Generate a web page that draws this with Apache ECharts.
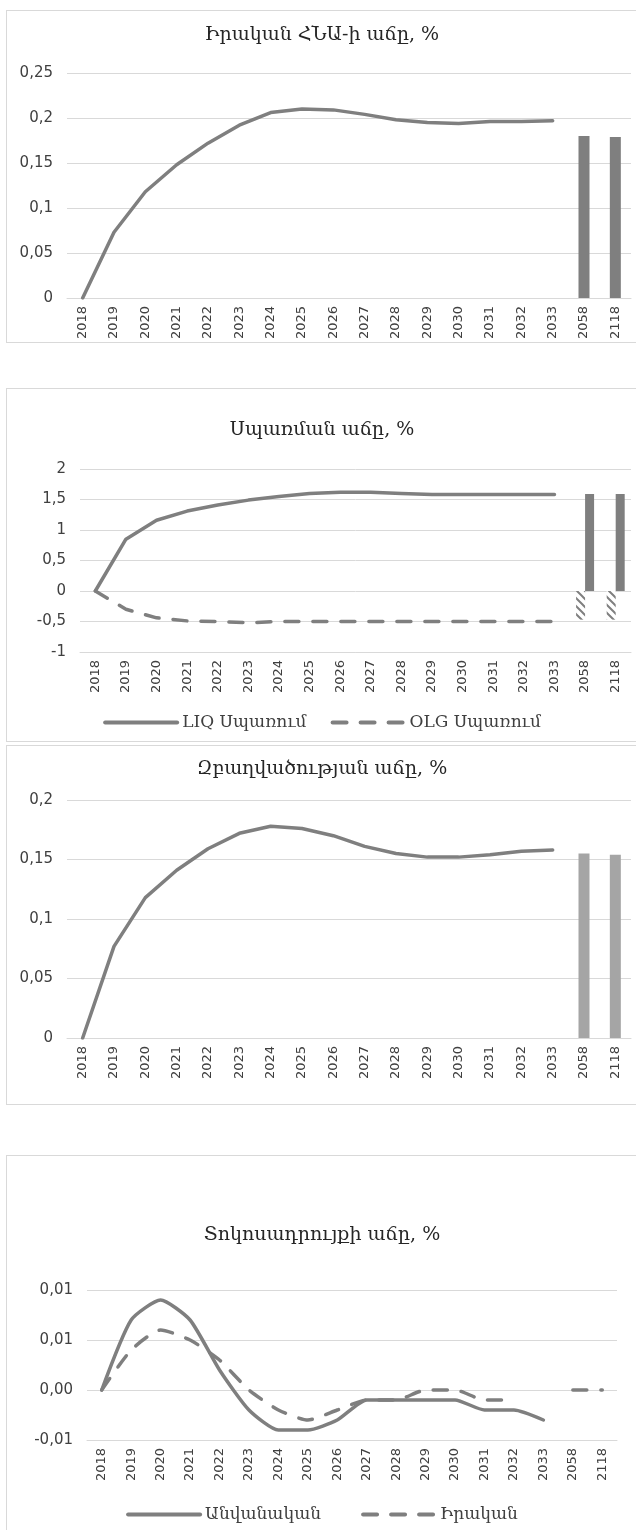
<!DOCTYPE html>
<html>
<head>
<meta charset="utf-8">
<script src="https://cdn.jsdelivr.net/npm/echarts@6/dist/echarts.min.js"></script>
<style>
  html, body { margin: 0; padding: 0; background: #fff; width: 636px; height: 1530px; overflow: hidden; }
  .panel { position: absolute; left: 6px; width: 630px; border: 1px solid #d9d9d9; background: #fff; }
</style>
</head>
<body>
<div id="p1" class="panel" style="top:10px;height:331px"></div>
<div id="p2" class="panel" style="top:388px;height:352px"></div>
<div id="p3" class="panel" style="top:745px;height:358px"></div>
<div id="p4" class="panel" style="top:1155px;height:400px"></div>
<script>
// categories
var years = ["2018", "2019", "2020", "2021", "2022", "2023", "2024", "2025", "2026",
  "2027", "2028", "2029", "2030", "2031", "2032", "2033", "2058", "2118"];

// real GDP growth
var gdpLine = [0, 0.073, 0.118, 0.148, 0.172, 0.192, 0.206, 0.210, 0.209, 0.204,
  0.198, 0.195, 0.194, 0.196, 0.196, 0.197, null, null];
var gdpBar = [null, null, null, null, null, null, null, null, null, null,
  null, null, null, null, null, null, 0.180, 0.179];

// consumption growth
var liqLine = [0, 0.85, 1.16, 1.31, 1.41, 1.49, 1.55, 1.60, 1.62, 1.62,
  1.60, 1.58, 1.58, 1.58, 1.58, 1.58, null, null];
var olgLine = [0, -0.30, -0.44, -0.49, -0.50, -0.52, -0.50, -0.50, -0.50, -0.50,
  -0.50, -0.50, -0.50, -0.50, -0.50, -0.50, null, null];
var liqBar = [null, null, null, null, null, null, null, null, null, null,
  null, null, null, null, null, null, 1.59, 1.59];
var olgBar = [null, null, null, null, null, null, null, null, null, null,
  null, null, null, null, null, null, -0.47, -0.47];

// employment growth
var empLine = [0, 0.077, 0.118, 0.141, 0.159, 0.172, 0.178, 0.176, 0.170, 0.161,
  0.155, 0.152, 0.152, 0.154, 0.157, 0.158, null, null];
var empBar = [null, null, null, null, null, null, null, null, null, null,
  null, null, null, null, null, null, 0.155, 0.154];

// interest rate growth
var rateNominal = [0, 0.007, 0.009, 0.007, 0.002, -0.002, -0.004, -0.004, -0.003, -0.001,
  -0.001, -0.001, -0.001, -0.002, -0.002, -0.003, null, null];
var rateReal = [0, 0.004, 0.006, 0.005, 0.003, 0, -0.002, -0.003, -0.002, -0.001,
  -0.001, 0, 0, -0.001, -0.001, null, 0, 0];

var GREY = "#7f7f7f";
var LIGHT = "#a5a5a5";
var LABEL = "#404040";
var GRID = "#d9d9d9";

function comma(v) {
  return String(v).replace(".", ",");
}

// diagonal hatch for the OLG bars
var hatch = document.createElement("canvas");
hatch.width = 8;
hatch.height = 8;
var hc = hatch.getContext("2d");
hc.fillStyle = "#fff";
hc.fillRect(0, 0, 8, 8);
hc.strokeStyle = GREY;
hc.lineWidth = 2;
hc.beginPath();
hc.moveTo(-1, -1); hc.lineTo(9, 9);
hc.moveTo(7, -1); hc.lineTo(9, 1);
hc.moveTo(-1, 7); hc.lineTo(1, 9);
hc.stroke();

function base(title, titleTop, grid, yMin, yMax, yInt, fmt) {
  return {
    animation: false,
    title: {
      text: title,
      left: "center",
      top: titleTop,
      padding: 0,
      textStyle: { fontFamily: "DejaVu Serif", fontSize: 19, fontWeight: "normal", color: "#262626" }
    },
    grid: grid,
    xAxis: {
      type: "category",
      data: years,
      axisLine: { onZero: false, lineStyle: { color: GRID } },
      axisTick: { show: false },
      axisLabel: { rotate: 90, interval: 0, margin: 8, color: LABEL, fontFamily: "DejaVu Sans", fontSize: 13 }
    },
    yAxis: {
      type: "value",
      min: yMin,
      max: yMax,
      interval: yInt,
      axisLine: { show: false },
      axisTick: { show: false },
      splitLine: { lineStyle: { color: GRID } },
      axisLabel: { margin: 14, color: LABEL, fontFamily: "DejaVu Sans", fontSize: 15, formatter: fmt }
    }
  };
}

function line(name, data, dashed, smooth) {
  return {
    name: name,
    type: "line",
    data: data,
    symbol: "none",
    smooth: smooth || false,
    z: 5,
    itemStyle: { color: GREY },
    lineStyle: { color: GREY, width: 3.5, type: dashed ? [14, 14] : "solid", cap: "round" }
  };
}

function legend(names, pos, gap) {
  return Object.assign({
    data: names,
    left: "center",
    itemWidth: 72,
    itemHeight: 4,
    itemGap: gap,
    itemStyle: { opacity: 0 },
    lineStyle: { width: 4 },
    textStyle: { fontFamily: "DejaVu Serif", fontSize: 17, color: LABEL }
  }, pos);
}

// panel 1
var c1 = echarts.init(document.getElementById("p1"));
var o1 = base("Իրական ՀՆԱ-ի աճը, %", 15, { left: 60, right: 6, top: 62, bottom: 38 }, 0, 0.25, 0.05, comma);
o1.series = [
  line("ՀՆԱ", gdpLine, false),
  { name: "ՀՆԱ bar", type: "bar", data: gdpBar, barWidth: 11, itemStyle: { color: GREY } }
];
c1.setOption(o1);

// panel 2
var c2 = echarts.init(document.getElementById("p2"));
var o2 = base("Սպառման աճը, %", 32, { left: 73, right: 6, top: 80, bottom: 89 }, -1, 2, 0.5, comma);
o2.legend = legend(["LIQ Սպառում", "OLG Սպառում"], { top: 320 }, 24);
o2.series = [
  line("LIQ Սպառում", liqLine, false),
  line("OLG Սպառում", olgLine, true),
  { name: "OLG bar", type: "bar", data: olgBar, barWidth: 9, barGap: "0%",
    itemStyle: { color: { image: hatch, repeat: "repeat" } } },
  { name: "LIQ bar", type: "bar", data: liqBar, barWidth: 9, barGap: "0%", itemStyle: { color: GREY } }
];
c2.setOption(o2);

// panel 3
var c3 = echarts.init(document.getElementById("p3"));
var o3 = base("Զբաղվածության աճը, %", 14, { left: 60, right: 6, top: 54, bottom: 66 }, 0, 0.2, 0.05, comma);
o3.series = [
  line("Զբաղվածություն", empLine, false),
  { name: "Զբաղվածություն bar", type: "bar", data: empBar, barWidth: 11, itemStyle: { color: LIGHT } }
];
c3.setOption(o3);

// panel 4
var c4 = echarts.init(document.getElementById("p4"));
var o4 = base("Տոկոսադրույքի աճը, %", 70, { left: 80, right: 20, top: 134, bottom: 116 }, -0.005, 0.01, 0.005,
  function (v) { return v.toFixed(2).replace(".", ","); });
o4.legend = legend(["Անվանական", "Իրական"], { top: 345 }, 40);
o4.series = [
  line("Անվանական", rateNominal, false, 0.2),
  line("Իրական", rateReal, true, 0.2)
];
c4.setOption(o4);
</script>
</body>
</html>
